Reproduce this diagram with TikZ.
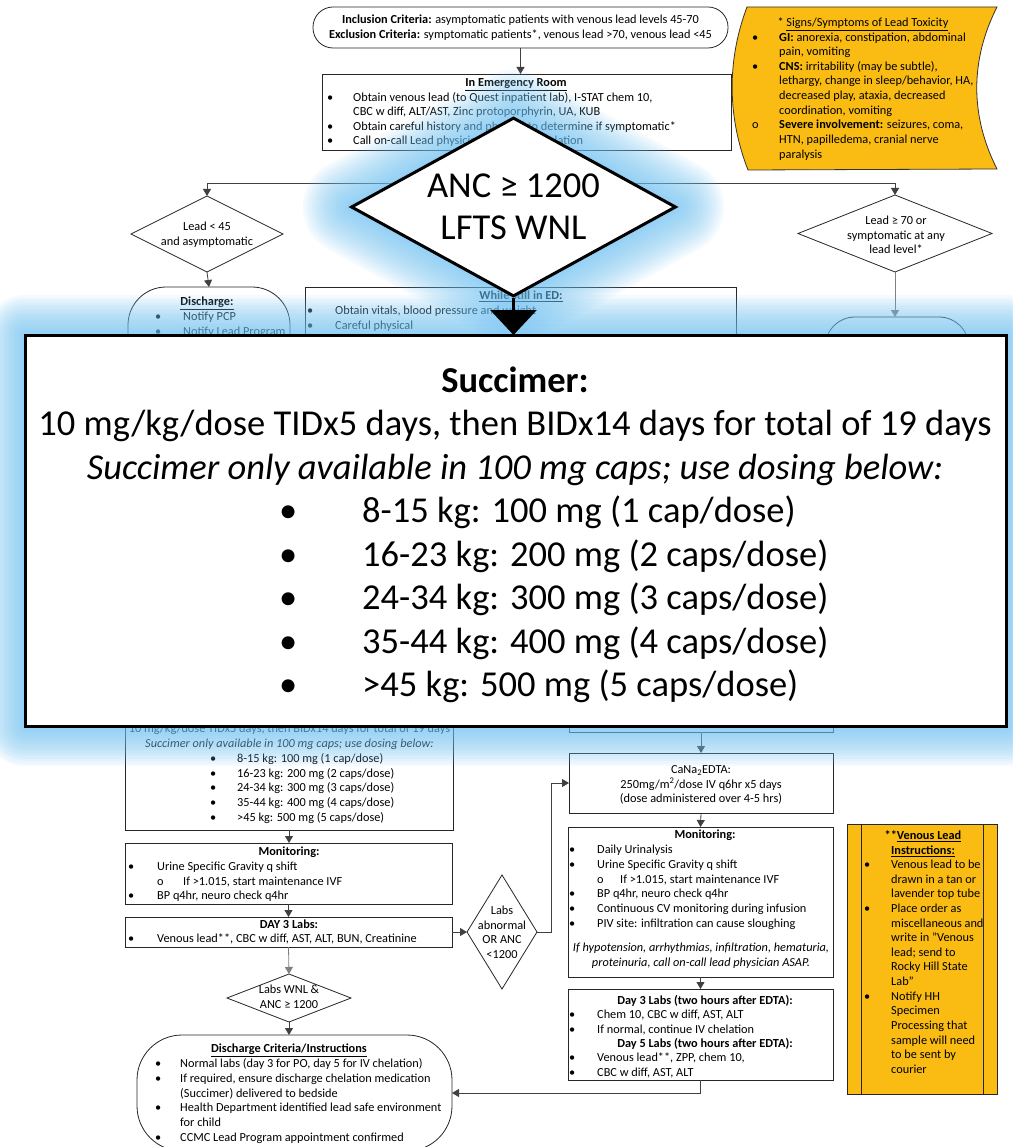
\documentclass[tikz,border=0pt]{standalone}
\usepackage{fontspec}
\setmainfont{Carlito}
\usetikzlibrary{shapes.geometric,arrows.meta}
\definecolor{gold}{RGB}{250,188,18}
\definecolor{glowc}{RGB}{110,195,245}
\definecolor{lnc}{RGB}{64,64,64}
\definecolor{lng}{RGB}{128,128,128}
\newcommand\bul{\textbullet}
\newcommand\BX[6][]{\node[box,#1,anchor=north west,minimum width={#4-#2},minimum height={#5-#3}] (#6) at (#2,#3) {};}
\begin{document}
\begin{tikzpicture}[x=1pt,y=-1pt,
 box/.style={draw=black!85,line width=0.8pt,fill=white,inner sep=0pt,outer sep=0pt,rectangle},
 dia/.style={diamond,draw=black!85,line width=0.8pt,fill=white,inner sep=0pt,outer sep=0pt},
 conn/.style={draw=lnc,line width=0.8pt,-{Triangle[width=8pt,length=7pt]}},
 conng/.style={conn,draw=lng},
 plain/.style={draw=lnc,line width=0.8pt},
 txt/.style={inner sep=0pt,font=\fontsize{12.3}{14.64}\selectfont},
 big/.style={inner sep=0pt,font=\fontsize{36.5}{43.6}\selectfont},
 glow/.style={draw=glowc,opacity=0.07,line join=round}]
\useasboundingbox (0,0) rectangle (1012,1147);
\fill[white] (0,0) rectangle (1012,1147);

% ---------- top part ----------
\BX[rounded corners=20pt]{313}{7}{728}{48}{incl}
\node[txt,anchor=north] (inclT) at (520.5,13.5) {\begin{tabular}{@{}c@{}}\textbf{Inclusion Criteria:} asymptomatic patients with venous lead levels 45-70\\ \textbf{Exclusion Criteria:} symptomatic patients*, venous lead >70, venous lead <45\end{tabular}};

\BX{322}{74}{731}{150}{er}
\node[txt,anchor=base] (erH) at (516,86.3) {\textbf{\underline{In Emergency Room}}};
\node[txt,anchor=north west] (erL) at (327,90.6) {\begin{tabular}{@{}p{26pt}@{}l@{}}
\bul & Obtain venous lead (to Quest inpatient lab), I-STAT chem 10,\\
 & CBC w diff, ALT/AST, Zinc protoporphyrin, UA, KUB\\
\bul & Obtain careful history and physical to determine if symptomatic*\\
\bul & Call on-call Lead physician to discuss chelation
\end{tabular}};

\draw[fill=gold,draw=black!80,line width=0.8pt] (747,7) -- (997,7) .. controls (970,60) and (970,116) .. (997,169) -- (748,170) .. controls (727,116) and (727,60) .. (747,7) -- cycle;
\node[txt,anchor=base] (symH) at (863,26.3) {* \underline{Signs/Symptoms of Lead Toxicity}};
\node[txt,anchor=north west] (symL) at (752,30.6) {\begin{tabular}{@{}p{27pt}@{}l@{}}
\bul & \textbf{GI:} anorexia, constipation, abdominal\\
 & pain, vomiting\\
\bul & \textbf{CNS:} irritability (may be subtle),\\
 & lethargy, change in sleep/behavior, HA,\\
 & decreased play, ataxia, decreased\\
 & coordination, vomiting\\
o & \textbf{Severe involvement:} seizures, coma,\\
 & HTN, papilledema, cranial nerve\\
 & paralysis
\end{tabular}};

\node[dia,minimum width=152,minimum height=76] (leadL) at (207,234) {};
\node[txt,anchor=north] (leadLT) at (207,220) {\begin{tabular}{@{}c@{}}Lead < 45\\and asymptomatic\end{tabular}};
\node[dia,minimum width=194,minimum height=77] (leadR) at (895,233.5) {};
\node[txt,anchor=north] (leadRT) at (896,214) {\begin{tabular}{@{}c@{}}Lead ≥ 70 or\\symptomatic at any\\lead level*\end{tabular}};

\BX[rounded corners=38pt]{128}{287}{290}{600}{disc}
\node[txt,anchor=base] (discH) at (207,305.3) {\textbf{\underline{Discharge:}}};
\node[txt,anchor=north west] (discL) at (155,310) {\begin{tabular}{@{}p{28pt}@{}l@{}}
\bul & Notify PCP\\
\bul & Notify Lead Program
\end{tabular}};

\BX{305}{287}{736}{600}{ed}
\node[txt,anchor=base] (edH) at (521,299.3) {\textbf{\underline{While still in ED:}}};
\node[txt,anchor=north west] (edL) at (307,304) {\begin{tabular}{@{}p{28pt}@{}l@{}}
\bul & Obtain vitals, blood pressure and weight\\
\bul & Careful physical
\end{tabular}};

\BX[rounded corners=30pt]{825}{317}{969}{600}{rr}

% connectors top
\coordinate (yS) at (0,183);
\draw[conn] (incl.south) -- (incl.south |- er.north);
\draw[plain] (er.south) -- (er.south |- yS);
\draw[conn] (er.south |- yS) -- (leadL.north |- yS) -- (leadL.north);
\draw[conn] (er.south |- yS) -- (leadR.north |- yS) -- (leadR.north);
\draw[conn] (leadL.south) -- (disc.north);
\draw[conng] (leadR.south) -- (leadR.south |- rr.north);

% ---------- lower left ----------
\BX{125}{600}{453}{830}{succ}
\node[txt,anchor=north] (succT) at (289.5,707.7) {\begin{tabular}{@{}c@{}}\textbf{Succimer:}\\10 mg/kg/dose TIDx5 days, then BIDx14 days for total of 19 days\\ \textit{Succimer only available in 100 mg caps; use dosing below:}\end{tabular}};
\node[txt,anchor=north west] (succL) at (210,752) {\begin{tabular}{@{}p{27pt}@{}l@{}}
\bul & 8-15 kg: 100 mg (1 cap/dose)\\
\bul & 16-23 kg: 200 mg (2 caps/dose)\\
\bul & 24-34 kg: 300 mg (3 caps/dose)\\
\bul & 35-44 kg: 400 mg (4 caps/dose)\\
\bul & >45 kg: 500 mg (5 caps/dose)
\end{tabular}};

\BX{125}{843}{452}{904}{mon}
\node[txt,anchor=base] (monH) at (289,855.3) {\textbf{Monitoring:}};
\node[txt,anchor=north west] (monL) at (128,860) {\begin{tabular}{@{}p{29pt}@{}l@{}}
\bul & Urine Specific Gravity q shift\\
 & \makebox[26pt][l]{o}If >1.015, start maintenance IVF\\
\bul & BP q4hr, neuro check q4hr
\end{tabular}};

\BX{125}{917}{452}{947}{dayA}
\node[txt,anchor=base] (dayAH) at (289,928.3) {\textbf{DAY 3 Labs:}};
\node[txt,anchor=north west] (dayAL) at (128,932.5) {\begin{tabular}{@{}p{29pt}@{}l@{}}
\bul & Venous lead**, CBC w diff, AST, ALT, BUN, Creatinine
\end{tabular}};

\node[dia,minimum width=70,minimum height=114] (abn) at (502,932) {};
\node[txt,anchor=north] (abnT) at (502,904) {\begin{tabular}{@{}c@{}}Labs\\abnormal\\OR ANC\\<1200\end{tabular}};

\node[dia,minimum width=124,minimum height=48] (wnl) at (289,998) {};
\node[txt,anchor=north] (wnlT) at (289,983) {\begin{tabular}{@{}c@{}}Labs WNL \&\\ANC ≥ 1200\end{tabular}};

\BX[rounded corners=45pt]{137}{1035}{452}{1151}{dcrit}
\node[txt,anchor=base] (dcritH) at (289,1052.3) {\textbf{\underline{Discharge Criteria/Instructions}}};
\node[txt,anchor=north west] (dcritL) at (155,1057.5) {\begin{tabular}{@{}p{25pt}@{}l@{}}
\bul & Normal labs (day 3 for PO, day 5 for IV chelation)\\
\bul & If required, ensure discharge chelation medication\\
 & (Succimer) delivered to bedside\\
\bul & Health Department identified lead safe environment\\
 & for child\\
\bul & CCMC Lead Program appointment confirmed
\end{tabular}};

% ---------- lower right ----------
\BX{569}{600}{833}{732}{chel}
\BX{569}{753}{833}{813}{cana}
\node[txt,anchor=north] (canaT) at (701,763) {\begin{tabular}{@{}c@{}}CaNa\textsubscript{2}EDTA:\\250mg/m\textsuperscript{2}/dose IV q6hr x5 days\\(dose administered over 4-5 hrs)\end{tabular}};

\BX{568}{827}{833}{977}{monR}
\node[txt,anchor=base] (monRH) at (705,838.3) {\textbf{Monitoring:}};
\node[txt,anchor=north west] (monRL) at (569,843.5) {\begin{tabular}{@{}p{28pt}@{}l@{}}
\bul & Daily Urinalysis\\
\bul & Urine Specific Gravity q shift\\
 & \makebox[23pt][l]{o}If >1.015, start maintenance IVF\\
\bul & BP q4hr, neuro check q4hr\\
\bul & Continuous CV monitoring during infusion\\
\bul & PIV site: infiltration can cause sloughing
\end{tabular}};
\node[txt,anchor=north] (monRI) at (701,941) {\begin{tabular}{@{}c@{}}\textit{If hypotension, arrhythmias, infiltration, hematuria,}\\ \textit{proteinuria, call on-call lead physician ASAP.}\end{tabular}};

\BX{568}{989}{833}{1080}{dayB}
\node[txt,anchor=base] (dayBH) at (705,1004.3) {\textbf{Day 3 Labs (two hours after EDTA):}};
\node[txt,anchor=north west] (dayBL) at (569,1008) {\begin{tabular}{@{}p{28pt}@{}l@{}}
\bul & Chem 10, CBC w diff, AST, ALT\\
\bul & If normal, continue IV chelation
\end{tabular}};
\node[txt,anchor=base] (dayCH) at (705,1047.3) {\textbf{Day 5 Labs (two hours after EDTA):}};
\node[txt,anchor=north west] (dayCL) at (569,1051) {\begin{tabular}{@{}p{28pt}@{}l@{}}
\bul & Venous lead**, ZPP, chem 10,\\
\bul & CBC w diff, AST, ALT
\end{tabular}};

\BX[fill=gold]{847}{824}{997}{1094}{vl}
\draw[draw=black!85,line width=0.8pt] ([xshift=14pt]vl.north west) -- ([xshift=14pt]vl.south west);
\draw[draw=black!85,line width=0.8pt] ([xshift=-14pt]vl.north east) -- ([xshift=-14pt]vl.south east);
\node[txt,anchor=north] (vlH) at (923,829.5) {\begin{tabular}{@{}c@{}}\textbf{**\underline{Venous Lead}}\\ \textbf{\underline{Instructions:}}\end{tabular}};
\node[txt,anchor=north west] (vlL) at (864,858) {\begin{tabular}{@{}p{27pt}@{}l@{}}
\bul & Venous lead to be\\
 & drawn in a tan or\\
 & lavender top tube\\
\bul & Place order as\\
 & miscellaneous and\\
 & write in "Venous\\
 & lead; send to\\
 & Rocky Hill State\\
 & Lab"\\
\bul & Notify HH\\
 & Specimen\\
 & Processing that\\
 & sample will need\\
 & to be sent by\\
 & courier
\end{tabular}};

% connectors bottom
\draw[conn] (succ.south) -- (succ.south |- mon.north);
\draw[conn] (mon.south) -- (mon.south |- dayA.north);
\draw[conn] (dayA.east) -- (dayA.east -| abn.west);
\draw[conn] (abn.east) -- ++(14,0) |- (cana.west);
\draw[conng] (dayA.south) -- (wnl.north);
\draw[conn] (wnl.south) -- (wnl.south |- dcrit.north);
\draw[conn] (chel.south) -- (cana.north);
\draw[conn] (cana.south) -- (monR.north);
\draw[conn] (monR.south) -- (dayB.north);
\draw[conn] (dayB.south) |- (dcrit.east);

% ---------- magnified overlay ----------
\foreach \w in {6,12,...,96} {\draw[glow,line width=\w pt] (513.5,118) -- (676,207) -- (513.5,296) -- (351,207) -- cycle;}
\foreach \w in {5,10,...,80} {\draw[glow,line width=\w pt] (25,335) rectangle (1006,726);}

\node[diamond,draw=black,line width=3pt,fill=white,inner sep=0pt,minimum width=325,minimum height=179] (ancBig) at (513.5,207) {};
\node[inner sep=0pt,font=\fontsize{36.5}{42}\selectfont,anchor=north] (ancT) at (513.5,167.6) {\begin{tabular}{@{}c@{}}ANC ≥ 1200\\LFTS WNL\end{tabular}};

\node[rectangle,draw=black,line width=3pt,fill=white,inner sep=0pt,outer sep=0pt,minimum width=981,minimum height=391] (sbig) at (515.5,530.5) {};
\draw[line width=3pt,-{Triangle[width=46pt,length=25pt]}] (ancBig.south) -- (ancBig.south |- sbig.north);
\node[big,anchor=north] (sbigT) at (515,361.5) {\begin{tabular}{@{}c@{}}\textbf{Succimer:}\\10 mg/kg/dose TIDx5 days, then BIDx14 days for total of 19 days\\ \textit{Succimer only available in 100 mg caps; use dosing below:}\end{tabular}};
\node[big,anchor=north west] (sbigL) at (279,491.7) {\begin{tabular}{@{}p{83pt}@{}l@{}}
\bul & 8-15 kg: 100 mg (1 cap/dose)\\
\bul & 16-23 kg: 200 mg (2 caps/dose)\\
\bul & 24-34 kg: 300 mg (3 caps/dose)\\
\bul & 35-44 kg: 400 mg (4 caps/dose)\\
\bul & >45 kg: 500 mg (5 caps/dose)
\end{tabular}};
\end{tikzpicture}
\end{document}
